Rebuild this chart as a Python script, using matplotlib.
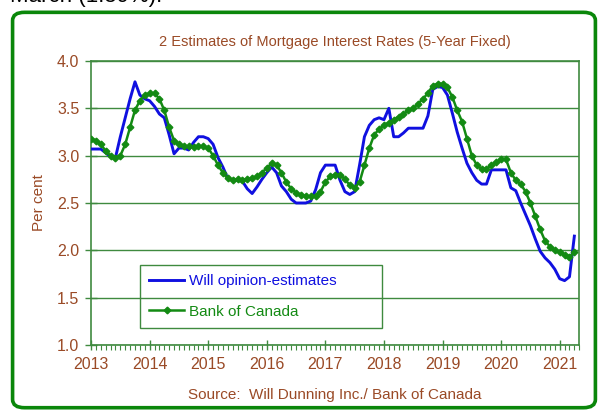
import numpy as np
import matplotlib
matplotlib.use("Agg")
import matplotlib.pyplot as plt
from matplotlib.patches import FancyBboxPatch

plt.rcParams['font.family'] = ['Liberation Sans', 'DejaVu Sans']

# monthly values, Jan 2013 onwards
will_rates = [3.07, 3.07, 3.07, 3.03, 2.99, 2.98, 3.20, 3.40, 3.60, 3.78,
              3.64, 3.60, 3.58, 3.52, 3.44, 3.40, 3.22, 3.02, 3.08, 3.08,
              3.06, 3.14, 3.20, 3.20, 3.18, 3.12, 2.98, 2.88, 2.76, 2.74,
              2.74, 2.73, 2.65, 2.60, 2.67, 2.75, 2.82, 2.88, 2.82, 2.68,
              2.62, 2.54, 2.50, 2.50, 2.50, 2.52, 2.64, 2.82, 2.90, 2.90,
              2.90, 2.74, 2.62, 2.59, 2.62, 2.90, 3.20, 3.32, 3.38, 3.40,
              3.38, 3.50, 3.20, 3.20, 3.24, 3.29, 3.29, 3.29, 3.29, 3.42,
              3.70, 3.73, 3.72, 3.64, 3.45, 3.25, 3.08, 2.92, 2.82, 2.74,
              2.70, 2.70, 2.85, 2.85, 2.85, 2.85, 2.66, 2.63, 2.50, 2.38,
              2.26, 2.12, 1.99, 1.92, 1.87, 1.80, 1.70, 1.68, 1.72, 2.15]

boc_rates = [3.18, 3.16, 3.12, 3.05, 3.00, 2.98, 3.00, 3.12, 3.30, 3.48,
             3.58, 3.64, 3.66, 3.66, 3.60, 3.48, 3.30, 3.16, 3.12, 3.10,
             3.10, 3.09, 3.10, 3.10, 3.08, 3.00, 2.90, 2.82, 2.76, 2.74,
             2.75, 2.74, 2.75, 2.76, 2.78, 2.82, 2.87, 2.92, 2.90, 2.82,
             2.72, 2.65, 2.61, 2.58, 2.57, 2.57, 2.57, 2.62, 2.72, 2.78,
             2.80, 2.80, 2.75, 2.69, 2.66, 2.72, 2.90, 3.08, 3.22, 3.28,
             3.32, 3.35, 3.38, 3.41, 3.44, 3.48, 3.50, 3.55, 3.60, 3.66,
             3.74, 3.76, 3.76, 3.72, 3.62, 3.48, 3.36, 3.18, 3.00, 2.90,
             2.86, 2.86, 2.90, 2.93, 2.96, 2.96, 2.82, 2.74, 2.70, 2.62,
             2.50, 2.36, 2.22, 2.10, 2.04, 2.00, 1.98, 1.95, 1.93, 1.98]

years = ['2013', '2014', '2015', '2016', '2017', '2018', '2019', '2020', '2021']

months = np.arange(len(will_rates))

brown = '#9a4a26'
grid_green = '#3f8a3f'

fig = plt.figure(figsize=(5.99, 4.11), dpi=100)
ax = fig.add_axes([0.152, 0.1606, 0.815, 0.691])

ax.plot(months, will_rates, color='#1010e0', lw=2.1, label='Will opinion-estimates', zorder=3)
ax.plot(months, boc_rates, color='#138a13', lw=1.8, marker='D', markersize=3.4,
        label='Bank of Canada', zorder=4)

ax.set_xlim(0, 100)
ax.set_ylim(1.0, 4.0)
ax.set_yticks(np.arange(1.0, 4.01, 0.5))
ax.set_yticklabels(['%.1f' % v for v in np.arange(1.0, 4.01, 0.5)])
ax.set_xticks(np.arange(0, 97, 12))
ax.set_xticklabels(years)
ax.set_xticks(np.arange(0, 101, 1), minor=True)

ax.grid(axis='y', color=grid_green, lw=1.0)
ax.set_axisbelow(True)
for s in ax.spines.values():
    s.set_color(grid_green)
    s.set_linewidth(1.2)

ax.tick_params(axis='y', direction='inout', length=9, width=1, color=grid_green,
               labelcolor=brown, labelsize=11.5, pad=4)
ax.tick_params(axis='x', which='major', direction='inout', length=7, width=1,
               color=grid_green, labelcolor=brown, labelsize=11.5, pad=5)
ax.tick_params(axis='x', which='minor', direction='out', length=3.5, width=0.8,
               color=grid_green)

ax.set_title('2 Estimates of Mortgage Interest Rates (5-Year Fixed)',
             color=brown, fontsize=10.5, pad=11)
ax.set_ylabel('Per cent', color=brown, fontsize=11, labelpad=8)
ax.set_xlabel('Source:  Will Dunning Inc./ Bank of Canada', color=brown,
              fontsize=11, labelpad=12)

leg = ax.legend(loc='lower left', bbox_to_anchor=(0.10, 0.06, 0.496, 0.222),
                mode='expand', fancybox=False, facecolor='none', edgecolor=grid_green,
                fontsize=11, labelcolor='linecolor', handlelength=2.3,
                handletextpad=0.3, borderaxespad=0, labelspacing=1.1,
                borderpad=0.6)
leg.get_frame().set_linewidth(1.0)
leg.get_frame().set_alpha(None)

# rounded green border round the chart
border = FancyBboxPatch((0.021, 0.008), 0.973, 0.962,
                        boxstyle='round,pad=0,rounding_size=0.02',
                        transform=fig.transFigure, fill=False,
                        edgecolor='#0a870a', lw=2.6)
fig.patches.append(border)

# cut-off text from the page above the chart
fig.text(0.017, 0.994, 'March (1.59%).', fontsize=16, color='black', va='baseline')

fig.savefig('out.png', dpi=100)
